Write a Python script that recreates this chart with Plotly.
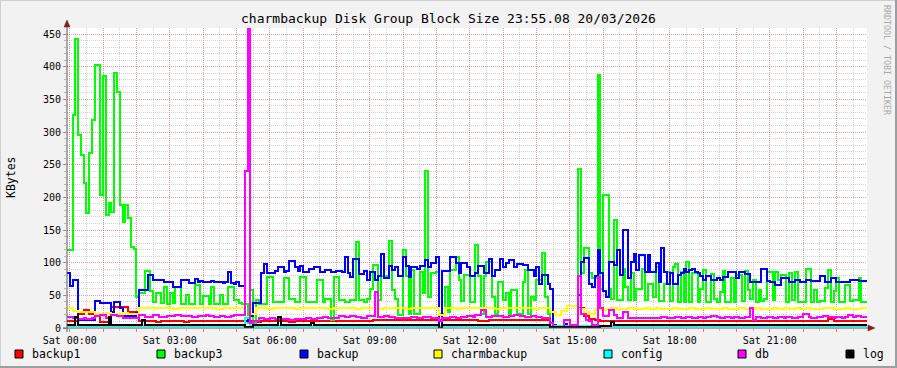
import plotly.graph_objects as go

# ---------------- data (5-minute steps, first sample starts 23:55 of previous day) ----------------
backup3 = [
    120,120,326,442,295,265,222,176,268,318,402,402,
    203,385,173,191,178,390,362,188,162,188,168,124,
    121,47,53,53,88,88,56,40,53,53,39,63,
    37,53,39,63,63,37,37,50,37,37,66,66,
    36,49,49,36,63,37,37,50,37,37,62,62,
    43,43,38,36,36,8,58,8,43,36,36,36,
    78,78,40,40,40,40,77,77,44,44,40,40,
    78,78,40,40,40,40,74,74,40,44,44,12,
    78,78,43,43,40,40,43,43,132,43,43,40,
    45,60,96,96,43,79,79,79,133,58,45,20,
    20,119,79,22,89,22,22,86,53,241,48,84,
    84,86,22,22,63,25,89,89,109,74,41,81,
    81,40,40,127,79,22,79,101,101,48,22,71,
    71,43,53,22,58,58,22,22,71,89,22,48,
    43,73,73,115,48,22,3,3,3,3,3,3,
    3,3,3,3,243,84,122,122,84,76,76,387,
    59,203,203,59,45,165,43,43,90,63,43,84,
    43,59,59,90,43,68,68,48,94,41,41,68,
    86,41,94,98,40,86,40,101,40,84,84,40,
    60,89,40,40,83,45,40,55,88,40,40,76,
    40,81,81,41,88,58,45,74,40,58,41,45,
    86,86,43,86,74,81,81,40,84,43,86,40,
    40,40,91,91,40,58,40,41,41,61,89,40,
    56,76,40,40,66,66,41,43,43,76,40,40,
]

backup = [
    84,64,74,74,13,13,13,13,13,13,42,42,
    39,39,39,39,25,40,40,30,18,18,18,18,
    18,23,58,58,58,81,81,73,73,73,73,71,
    71,71,63,63,63,73,73,73,69,69,75,70,
    72,70,70,71,72,70,70,71,69,70,86,69,
    67,71,64,64,10,14,19,39,39,39,84,98,
    84,84,84,88,94,94,86,88,102,102,94,88,
    95,86,86,90,90,94,94,85,85,89,89,85,
    85,88,88,85,108,84,78,105,105,82,82,87,
    73,86,86,73,79,114,76,76,95,89,94,79,
    79,109,95,78,93,93,91,95,95,104,93,99,
    99,108,2,88,88,88,109,109,99,84,99,99,
    93,79,79,84,95,95,84,84,106,79,89,89,
    106,93,99,104,104,93,98,98,97,97,89,89,
    79,93,68,81,81,68,60,5,3,3,3,6,
    3,3,3,3,50,101,107,107,68,63,79,119,
    84,56,48,101,101,96,119,81,150,150,76,101,
    114,89,112,112,86,112,86,86,99,71,122,86,
    67,84,67,67,81,84,91,86,89,91,86,84,
    79,74,79,79,74,74,76,73,78,78,86,86,
    86,76,86,86,83,83,71,71,71,71,90,90,
    72,71,71,66,66,76,76,76,71,71,74,74,
    71,71,73,73,72,72,72,80,80,71,71,76,
    76,71,71,71,70,70,74,74,74,72,72,72,
]

db = [
    17,17,15,15,14,14,15,14,14,15,18,18,
    20,20,15,15,20,20,18,18,16,16,15,15,
    16,16,20,20,17,17,17,20,20,17,17,17,
    18,18,18,20,20,18,18,18,18,17,17,18,
    18,18,20,18,18,17,17,18,18,17,17,18,
    20,20,20,20,240,458,8,10,10,15,15,14,
    14,15,15,14,14,14,14,14,13,13,14,14,
    14,14,15,15,14,14,15,15,17,17,16,16,
    16,16,18,18,17,17,18,18,17,17,16,16,
    18,18,18,55,17,17,18,18,17,17,16,16,
    15,15,16,16,17,17,16,16,17,17,17,16,
    16,16,10,15,16,16,17,17,16,16,17,17,
    18,18,17,20,20,27,27,17,17,18,18,19,
    19,17,17,18,18,20,20,18,18,17,17,19,
    19,17,17,16,16,15,8,2,2,2,2,12,
    12,5,5,5,80,22,22,12,10,5,5,78,
    30,18,18,28,28,20,15,15,25,25,15,15,
    16,16,15,16,16,16,15,15,16,16,17,17,
    16,16,16,17,17,16,16,17,17,16,16,17,
    17,16,17,17,19,19,17,16,16,17,17,16,
    17,17,16,16,17,17,30,12,17,17,16,16,
    17,17,16,16,17,17,16,17,17,16,16,17,
    17,21,21,17,16,16,17,17,19,19,17,17,
    16,17,17,16,17,20,20,17,18,18,17,17,
]

log = [
    5,5,5,17,5,5,5,5,5,5,5,5,
    5,5,5,17,5,5,5,5,5,5,5,5,
    5,5,5,13,5,5,5,5,5,5,5,5,
    5,5,5,5,5,5,5,5,5,5,5,5,
    5,5,5,5,5,5,5,5,5,5,5,5,
    5,5,5,5,1,1,1,5,5,5,5,5,
    5,5,5,5,17,5,5,5,5,5,5,5,
    5,5,5,5,8,5,5,5,5,5,5,5,
    5,5,5,5,5,5,5,5,5,5,5,5,
    5,5,5,5,5,5,5,5,5,5,5,5,
    5,5,5,5,5,5,5,5,5,5,5,5,
    5,5,0,5,5,5,5,5,5,5,5,5,
    5,5,5,5,5,5,5,5,5,5,5,5,
    5,5,5,5,5,5,5,5,5,5,5,5,
    5,5,5,5,5,5,1,1,1,1,1,1,
    1,1,1,1,2,2,2,2,2,2,2,2,
    3,3,3,3,9,5,5,5,5,5,5,5,
    5,5,5,5,5,5,5,5,5,5,5,5,
    5,5,5,5,5,5,5,5,5,5,5,5,
    5,5,5,5,5,5,5,5,5,5,5,5,
    5,5,5,5,5,5,5,5,5,5,5,5,
    5,5,5,5,5,5,5,5,5,5,5,5,
    5,5,5,5,5,5,5,5,5,5,5,5,
    5,5,5,5,5,5,5,5,5,5,5,5,
]

# ---------------- data (10-minute steps) ----------------
backup1 = [
    10,10,22,28,22,22,9,9,32,32,32,25,
    25,10,10,10,9,10,10,10,10,9,10,10,
    10,10,10,10,10,10,10,10,10,10,9,10,
    10,10,10,10,9,10,10,10,10,10,10,10,
    10,10,10,11,11,11,11,12,12,12,12,12,
    12,12,12,12,12,12,12,12,12,12,12,12,
    12,12,11,11,12,12,12,12,12,12,12,12,
    12,12,12,3,3,3,3,3,30,18,14,12,
    11,10,10,10,10,10,10,10,10,10,10,10,
    10,10,10,10,10,10,10,10,10,10,10,10,
    10,10,10,10,10,10,10,10,10,10,10,10,
    10,10,10,10,10,14,10,10,10,10,10,10,
]

charmbackup = [
    30,26,25,25,25,22,22,23,22,22,23,22,
    22,30,31,30,30,31,30,29,30,31,30,30,
    31,30,30,29,30,31,30,30,17,22,30,30,
    29,30,30,31,30,29,30,30,31,30,30,29,
    30,30,31,30,29,30,30,30,29,30,31,30,
    30,29,30,30,30,31,30,20,30,30,29,30,
    30,30,31,30,30,29,30,30,30,31,30,30,
    29,30,30,24,20,26,33,34,29,25,22,27,
    28,29,30,29,29,30,29,29,30,29,30,29,
    29,30,29,29,30,29,29,30,29,29,30,29,
    29,30,29,29,30,29,29,30,29,30,29,30,
    29,30,29,29,30,30,29,29,30,29,29,30,
]

config = [
    3,3,3,3,3,3,3,3,3,3,3,3,
    3,3,3,3,3,3,3,3,3,3,3,3,
    3,3,3,3,3,3,3,3,15,3,3,3,
    3,3,3,3,3,3,3,3,3,3,3,3,
    3,3,3,3,3,3,3,3,3,3,3,3,
    3,3,3,3,3,3,3,3,3,3,3,3,
    3,3,3,3,3,3,3,3,3,3,3,3,
    3,3,3,3,3,3,3,3,3,3,3,3,
    3,3,3,3,3,3,3,3,3,3,3,3,
    3,3,3,3,3,3,3,3,3,3,3,3,
    3,3,3,3,3,3,3,3,3,3,3,3,
    3,3,3,3,3,3,3,3,3,3,3,3,
]

series_names = ["backup1", "backup3", "backup", "charmbackup", "config", "db", "log"]
series_values = [backup1, backup3, backup, charmbackup, config, db, log]
series_steps = [10, 5, 5, 10, 10, 5, 5]
series_colors = ["#FF0000", "#00FF00", "#0000FF", "#FFFF00", "#00FFFF", "#FF00FF", "#000000"]

x_tick_minutes = [0, 60, 120, 180, 240, 300, 360, 420, 480, 540, 600, 660, 720, 780,
                  840, 900, 960, 1020, 1080, 1140, 1200, 1260, 1320, 1380]
x_tick_labels = ["Sat 00:00", "", "", "Sat 03:00", "", "", "Sat 06:00", "", "", "Sat 09:00", "", "",
                 "Sat 12:00", "", "", "Sat 15:00", "", "", "Sat 18:00", "", "", "Sat 21:00", "", ""]
y_ticks = [0, 50, 100, 150, 200, 250, 300, 350, 400, 450]

title_text = "charmbackup Disk Group Block Size 23:55.08 20/03/2026"
START = -5  # minutes relative to Sat 00:00

# ---------------- figure ----------------
W, H = 897, 368
L, R, T, B = 67, 30, 28, 40
PW, PH = W - L - R, H - T - B

def px(xp):
    return (xp - L) / PW

def py(yp):
    return (H - B - yp) / PH

fig = go.Figure()
for name, vals, step, col in zip(series_names, series_values, series_steps, series_colors):
    xs = [START + step * k for k in range(len(vals) + 1)]
    ys = list(vals) + [vals[-1]]
    fig.add_trace(go.Scatter(x=xs, y=ys, mode="lines", name=name,
                             line=dict(color=col, width=2, shape="hv", simplify=False),
                             hoverinfo="skip"))

font_mono = "DejaVu Sans Mono"
fig.update_layout(
    width=W, height=H,
    margin=dict(l=L, r=R, t=T, b=B, pad=0),
    paper_bgcolor="#F2F2F2", plot_bgcolor="#FFFFFF",
    showlegend=False,
    font=dict(family=font_mono, size=10, color="#000000"),
)
grid_major = "rgba(222,79,79,0.38)"
grid_minor = "rgba(143,143,143,0.38)"
fig.update_xaxes(
    range=[START, START + 1440], tickmode="array", tickvals=x_tick_minutes, ticktext=x_tick_labels,
    showgrid=True, gridcolor=grid_major, griddash="1px,1px", gridwidth=1,
    ticks="outside", ticklen=3, tickcolor="rgba(222,79,79,0.7)",
    showline=False, zeroline=False, tickfont=dict(family=font_mono, size=10, color="#000"),
    minor=dict(tickmode="linear", tick0=0, dtick=30, showgrid=True, gridcolor=grid_minor,
               griddash="1px,1px", ticks="outside", ticklen=2, tickcolor="rgba(143,143,143,0.6)"),
)
fig.update_yaxes(
    range=[0, 459.2], tickmode="array", tickvals=y_ticks,
    showgrid=True, gridcolor=grid_major, griddash="1px,1px", gridwidth=1,
    ticks="outside", ticklen=3, tickcolor="rgba(222,79,79,0.7)",
    showline=False, zeroline=False, tickfont=dict(family=font_mono, size=10, color="#000"),
    minor=dict(tickmode="linear", tick0=0, dtick=10, showgrid=True, gridcolor=grid_minor,
               griddash="1px,1px", ticks="outside", ticklen=2, tickcolor="rgba(143,143,143,0.6)"),
)

shapes = []
# frame shading
shapes.append(dict(type="line", xref="paper", yref="paper", x0=px(0), x1=px(W), y0=py(0.5), y1=py(0.5),
                   line=dict(color="#CFCFCF", width=1)))
shapes.append(dict(type="line", xref="paper", yref="paper", x0=px(0.5), x1=px(0.5), y0=py(0), y1=py(H),
                   line=dict(color="#CFCFCF", width=1)))
shapes.append(dict(type="line", xref="paper", yref="paper", x0=px(0), x1=px(W), y0=py(H - 1), y1=py(H - 1),
                   line=dict(color="#9E9E9E", width=2)))
shapes.append(dict(type="line", xref="paper", yref="paper", x0=px(W - 1), x1=px(W - 1), y0=py(0), y1=py(H),
                   line=dict(color="#9E9E9E", width=2)))
# axes with arrows
axis_col = "#5A5A5A"
shapes.append(dict(type="line", xref="paper", yref="paper", x0=px(63), x1=px(871), y0=py(328), y1=py(328),
                   line=dict(color=axis_col, width=1), layer="above"))
shapes.append(dict(type="line", xref="paper", yref="paper", x0=px(67), x1=px(67), y0=py(332), y1=py(24),
                   line=dict(color=axis_col, width=1), layer="above"))
arrow_col = "#801F1F"
shapes.append(dict(type="path", xref="paper", yref="paper",
                   path=f"M {px(868)} {py(325)} L {px(875)} {py(328)} L {px(868)} {py(331)} Z",
                   fillcolor=arrow_col, line=dict(color=arrow_col, width=0.5), layer="above"))
shapes.append(dict(type="path", xref="paper", yref="paper",
                   path=f"M {px(64)} {py(27)} L {px(67)} {py(20)} L {px(70)} {py(27)} Z",
                   fillcolor=arrow_col, line=dict(color=arrow_col, width=0.5), layer="above"))

annotations = []
annotations.append(dict(text=title_text, xref="paper", yref="paper", x=px(448.5), y=py(19),
                        xanchor="center", yanchor="middle", showarrow=False,
                        font=dict(family=font_mono, size=13, color="#000")))
annotations.append(dict(text="KBytes", xref="paper", yref="paper", x=px(11), y=py(177),
                        xanchor="center", yanchor="middle", showarrow=False, textangle=-90,
                        font=dict(family=font_mono, size=11.5, color="#000")))
annotations.append(dict(text="RRDTOOL / TOBI OETIKER", xref="paper", yref="paper", x=px(887), y=py(60),
                        xanchor="center", yanchor="middle", showarrow=False, textangle=90,
                        font=dict(family=font_mono, size=8.3, color="#A8A8A8")))

legend_x = [15, 157, 300, 434, 604, 738, 846]
for name, col, lx in zip(series_names, series_colors, legend_x):
    shapes.append(dict(type="rect", xref="paper", yref="paper", x0=px(lx), x1=px(lx + 8),
                       y0=py(358), y1=py(350), fillcolor=col, line=dict(color="#000", width=1)))
    annotations.append(dict(text=name, xref="paper", yref="paper", x=px(lx + 15), y=py(354),
                            xanchor="left", yanchor="middle", showarrow=False,
                            font=dict(family=font_mono, size=11.5, color="#000")))

fig.update_layout(shapes=shapes, annotations=annotations)

# RRDtool draws without anti-aliasing: render lines and grids with crisp edges
post = """
document.body.style.margin='0';
var gd = document.getElementById('{plot_id}');
gd.querySelectorAll('.scatterlayer path, .gridlayer path, .minor-gridlayer path').forEach(function(p){
    p.style.shapeRendering = 'crispEdges';
});
"""
fig.write_html("out.html", config={"displayModeBar": False}, post_script=post)
